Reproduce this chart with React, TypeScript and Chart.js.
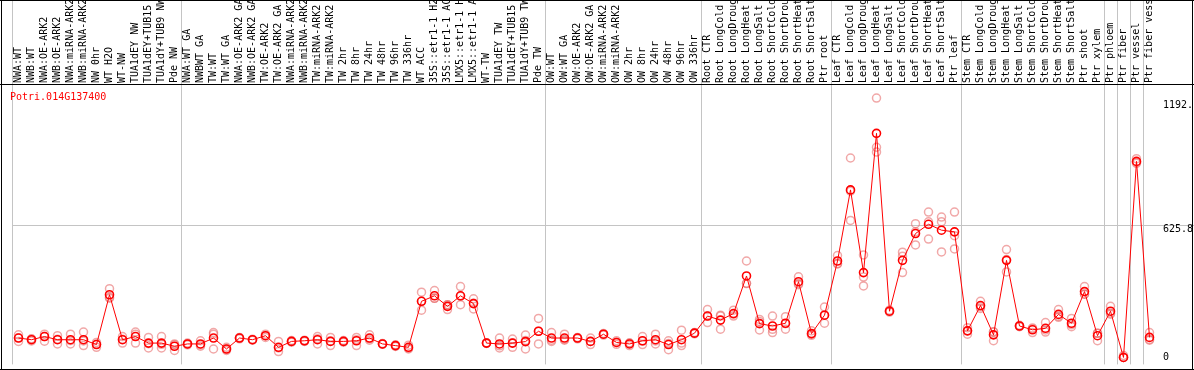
import React, { useEffect, useRef } from "react";
import { Chart, registerables } from "chart.js";

Chart.register(...registerables);

const categories = [
  "NWA:WT", "NWB:WT", "NWA:OE-ARK2", "NWB:OE-ARK2", "NWA:miRNA-ARK2", "NWB:miRNA-ARK2",
  "NW 0hr", "WT H2O", "WT-NW", "TUA1dEY NW", "TUA1dEY+TUB15 NW", "TUA1dY+TUB9 NW", "Pde NW",
  "NWA:WT GA", "NWBWT GA", "TW:WT", "TW:WT GA", "NWA:OE-ARK2 GA", "NWB:OE-ARK2 GA",
  "TW:OE-ARK2", "TW:OE-ARK2 GA", "NWA:miRNA-ARK2", "NWB:miRNA-ARK2", "TW:miRNA-ARK2",
  "TW:miRNA-ARK2", "TW 2hr", "TW 8hr", "TW 24hr", "TW 48hr", "TW 96hr", "TW 336hr", "WT ACC",
  "35S::etr1-1 H2O", "35S::etr1-1 ACC", "LMX5::etr1-1 H2O", "LMX5::etr1-1 ACC", "WT-TW",
  "TUA1dEY TW", "TUA1dEY+TUB15 TW", "TUA1dY+TUB9 TW", "Pde TW",
  "OW:WT", "OW:WT GA", "OW:OE-ARK2", "OW:OE-ARK2 GA", "OW:miRNA-ARK2", "OW:miRNA-ARK2",
  "OW 2hr", "OW 8hr", "OW 24hr", "OW 48hr", "OW 96hr", "OW 336hr",
  "Root CTR", "Root LongCold", "Root LongDrought", "Root LongHeat", "Root LongSalt",
  "Root ShortCold", "Root ShortDrought", "Root ShortHeat", "Root ShortSalt", "Ptr root",
  "Leaf CTR", "Leaf LongCold", "Leaf LongDrought", "Leaf LongHeat", "Leaf LongSalt",
  "Leaf ShortCold", "Leaf ShortDrought", "Leaf ShortHeat", "Leaf ShortSalt", "Ptr leaf",
  "Stem CTR", "Stem LongCold", "Stem LongDrought", "Stem LongHeat", "Stem LongSalt",
  "Stem ShortCold", "Stem ShortDrought", "Stem ShortHeat", "Stem ShortSalt", "Ptr shoot",
  "Ptr xylem", "Ptr phloem", "Ptr fiber", "Ptr vessel", "Ptr fiber vessel",
];

const meanValues = [
  92, 84, 99, 84, 84, 84, 61, 297, 84, 99, 68, 68, 53,
  64, 64, 92, 40, 92, 84, 103, 48, 76, 79, 84, 76, 76, 79, 92, 64, 56, 48, 266,
  292, 242, 292, 255, 68, 64, 68, 75, 124,
  92, 92, 92, 76, 110, 71, 64, 79, 84, 61, 84, 115,
  196, 177, 208, 386, 160, 149, 162, 359, 113, 200,
  457, 794, 402, 1062, 219, 460, 587, 631, 603, 595,
  126, 246, 107, 460, 149, 131, 138, 204, 162, 312, 103,
  219, 0, 929, 95,
];

const rep1 = [
  107, 88, 110, 103, 110, 120, 71, 326, 99, 120, 95, 99, 33,
  64, 79, 118, 48, 95, 86, 110, 76, 72, 82, 99, 95, 72, 95, 107, 62, 52, 40, 309,
  317, 227, 336, 278, 66, 92, 87, 106, 185,
  118, 110, 95, 92, 113, 79, 56, 99, 110, 79, 129, 118,
  227, 200, 224, 457, 180, 196, 193, 382, 126, 239,
  483, 945, 486, 1229, 224, 499, 634, 689, 665, 689,
  141, 266, 79, 511, 152, 118, 165, 227, 185, 336, 79,
  242, 9, 942, 118,
];

const rep2 = [
  76, 78, 77, 64, 64, 56, 48, 281, 68, 68, 45, 45, 64,
  60, 53, 110, 33, 88, 82, 95, 28, 80, 76, 64, 56, 80, 56, 82, 66, 60, 44, 224,
  280, 250, 250, 230, 70, 45, 48, 80, 64,
  82, 85, 88, 61, 106, 62, 68, 61, 64, 37, 56, 112,
  165, 134, 196, 351, 130, 118, 134, 350, 105, 162,
  445, 649, 339, 996, 215, 402, 533, 561, 643, 577,
  110, 232, 120, 405, 146, 140, 130, 190, 155, 300, 115,
  210, 0, 925, 85,
];

const rep3 = [
  93, 86, 99, 86, 80, 78, 63, 285, 86, 110, 65, 62, 60,
  68, 60, 40, 40, 92, 84, 103, 45, 76, 79, 88, 78, 76, 84, 88, 64, 56, 58, 266,
  280, 250, 290, 257, 68, 55, 69, 40, 124,
  76, 82, 92, 76, 110, 72, 68, 77, 78, 66, 68, 115,
  196, 196, 205, 350, 170, 133, 160, 345, 110, 200,
  443, 788, 381, 973, 219, 480, 595, 643, 500, 514,
  126, 240, 122, 464, 149, 135, 120, 195, 146, 300, 115,
  205, 0, 920, 82,
];

const yTickValues = [0, 625.8, 1192];
const yTickLabels = ["0", "625.8", "1192."];
const groupBoundaries = [0, 13, 41, 53, 63, 73, 84, 85, 86, 87, 88];
const geneName = "Potri.014G137400";

const MONO = "'DejaVu Sans Mono', monospace";

const framePlugin = {
  id: "frame",
  afterDraw(chart: any) {
    const { ctx, chartArea, width, height } = chart;
    ctx.save();
    ctx.fillStyle = "#ff0000";
    ctx.font = `10px ${MONO}`;
    ctx.textBaseline = "middle";
    ctx.textAlign = "left";
    ctx.fillText(geneName, chartArea.left - 2, chartArea.top + 12);
    ctx.fillStyle = "#000";
    ctx.fillRect(0, 0, width, 1);
    ctx.fillRect(0, height - 1, width, 1);
    ctx.fillRect(1, 0, 1, height);
    ctx.fillRect(width - 2, 0, 1, height);
    ctx.fillRect(0, Math.round(chartArea.top) - 1, width, 1);
    ctx.restore();
  },
};

export default function App() {
  const ref = useRef<HTMLCanvasElement | null>(null);
  useEffect(() => {
    if (!ref.current) return;
    const repStyle = {
      type: "line" as const,
      showLine: false,
      pointRadius: 4,
      pointHoverRadius: 4,
      pointBorderWidth: 1.5,
      pointBorderColor: "rgba(232,110,110,0.6)",
      pointBackgroundColor: "rgba(0,0,0,0)",
      borderColor: "rgba(232,110,110,0.6)",
    };
    const chart = new Chart(ref.current, {
      type: "line",
      data: {
        labels: categories,
        datasets: [
          {
            label: "mean",
            data: meanValues,
            borderColor: "#ff0000",
            borderWidth: 1,
            pointRadius: 4,
            pointHoverRadius: 4,
            pointBorderWidth: 1.6,
            pointBorderColor: "#ff0000",
            pointBackgroundColor: "rgba(0,0,0,0)",
            tension: 0,
          },
          { ...repStyle, label: "r1", data: rep1 },
          { ...repStyle, label: "r2", data: rep2 },
          { ...repStyle, label: "r3", data: rep3 },
        ],
      },
      options: {
        animation: false,
        responsive: false,
        devicePixelRatio: 1,
        layout: { padding: { left: 12, right: 0, top: 0, bottom: 1 } },
        plugins: {
          legend: { display: false },
          title: { display: false },
          tooltip: { enabled: false },
        },
        scales: {
          x: {
            type: "category",
            position: "top",
            offset: true,
            grid: {
              offset: true,
              drawOnChartArea: true,
              drawTicks: true,
              tickLength: 85,
              lineWidth: 1,
              color: (c: any) => (groupBoundaries.includes(c.index) ? "#c4c4c4" : "rgba(0,0,0,0)"),
            },
            border: { display: false },
            ticks: {
              autoSkip: false,
              minRotation: 90,
              maxRotation: 90,
              padding: -83,
              labelOffset: 12,
              color: "#000",
              font: { family: MONO, size: 10 },
            },
            afterFit: (s: any) => {
              s.height = 85;
            },
          },
          y: {
            type: "linear",
            position: "right",
            min: -33,
            max: 1291,
            afterBuildTicks: (s: any) => {
              s.ticks = yTickValues.map((v) => ({ value: v }));
            },
            grid: {
              drawTicks: true,
              tickLength: 38,
              lineWidth: 1,
              color: (c: any) => (c.tick && c.tick.value === 625.8 ? "#c4c4c4" : "rgba(0,0,0,0)"),
            },
            border: { display: false },
            ticks: {
              crossAlign: "near",
              padding: -31,
              color: "#000",
              font: { family: MONO, size: 10, lineHeight: 0.8 },
              callback: (v: any) => {
                const i = yTickValues.indexOf(Number(v));
                if (i < 0) return "";
                return i === 1 ? ["", yTickLabels[i]] : yTickLabels[i];
              },
            },
            afterFit: (s: any) => {
              s.width = 38;
            },
          },
        },
      },
      plugins: [framePlugin],
    });
    return () => chart.destroy();
  }, []);
  return (
    <div style={{ position: "fixed", left: 0, top: 0, width: 1194, height: 370, background: "#fff" }}>
      <canvas ref={ref} width={1194} height={370} style={{ width: 1194, height: 370, display: "block" }} />
    </div>
  );
}
